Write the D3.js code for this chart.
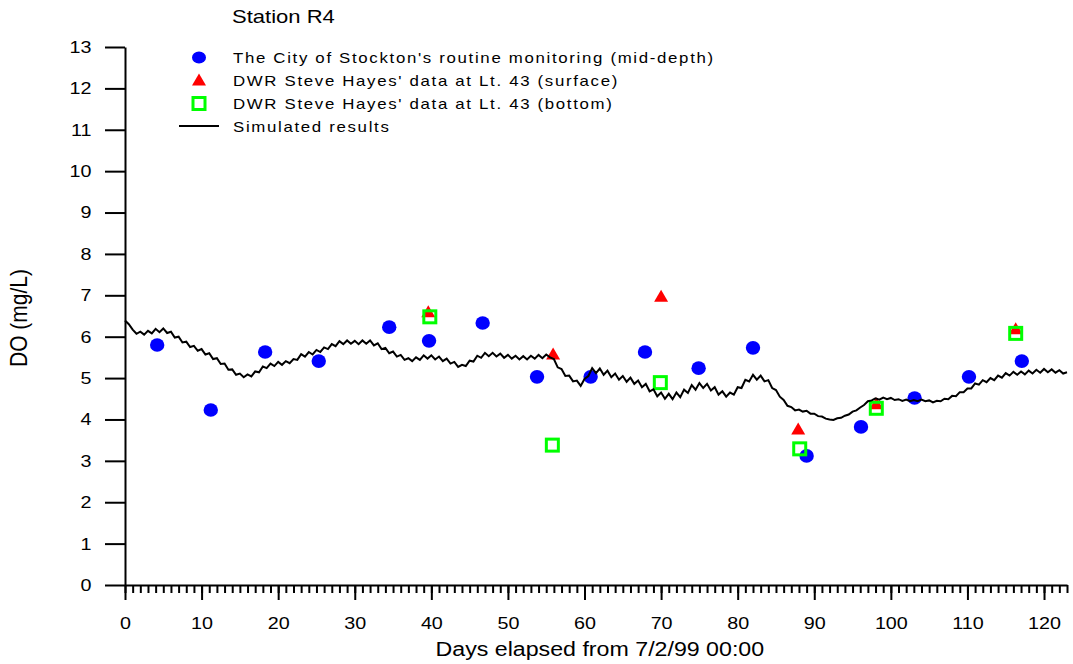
<!DOCTYPE html>
<html>
<head>
<meta charset="utf-8">
<script src="https://cdn.jsdelivr.net/npm/d3@7"></script>
<style>
  body { margin: 0; background: #fff; }
  text { font-family: "Liberation Sans", Arial, sans-serif; fill: #000; }
</style>
</head>
<body>
<div class="chart"></div>
<script>
var cityDay = [4.2, 11.2, 18.3, 25.3, 34.5, 39.7, 46.7, 53.8, 60.8, 67.9, 74.9, 82.0, 89.0, 96.1, 103.1, 110.2, 117.1];
var cityDO  = [5.80, 4.23, 5.63, 5.41, 6.23, 5.90, 6.33, 5.03, 5.03, 5.63, 5.24, 5.73, 3.12, 3.82, 4.52, 5.03, 5.41];

var surfDay = [39.6, 55.9, 70.0, 87.9, 98.1, 116.3];
var surfDO  = [6.60, 5.58, 6.98, 3.77, 4.38, 6.19];

var botDay = [39.8, 55.8, 69.9, 88.1, 98.1, 116.3];
var botDO  = [6.48, 3.38, 4.89, 3.29, 4.27, 6.08];

// simulated DO, one value every half day from day 0
var simStep = 0.5;
var simDO = [
  6.39, 6.30, 6.17, 6.07, 6.12, 6.05, 6.14, 6.08, 6.19, 6.11, 6.20, 6.09, 6.12, 5.98, 6.00, 5.86, 5.88, 5.75, 5.78, 5.66,
  5.70, 5.57, 5.60, 5.46, 5.48, 5.34, 5.35, 5.20, 5.21, 5.08, 5.11, 5.02, 5.09, 5.04, 5.16, 5.14, 5.28, 5.24, 5.35, 5.29,
  5.39, 5.32, 5.41, 5.36, 5.46, 5.44, 5.58, 5.52, 5.63, 5.57, 5.68, 5.63, 5.74, 5.70, 5.82, 5.77, 5.89, 5.82, 5.91, 5.83,
  5.90, 5.82, 5.91, 5.83, 5.91, 5.79, 5.84, 5.70, 5.73, 5.60, 5.64, 5.52, 5.56, 5.44, 5.48, 5.41, 5.50, 5.44, 5.55, 5.47,
  5.55, 5.45, 5.52, 5.41, 5.47, 5.35, 5.39, 5.27, 5.32, 5.29, 5.42, 5.40, 5.54, 5.49, 5.61, 5.53, 5.61, 5.52, 5.59, 5.49,
  5.56, 5.47, 5.54, 5.45, 5.53, 5.45, 5.54, 5.47, 5.56, 5.48, 5.57, 5.50, 5.46, 5.26, 5.22, 5.05, 5.06, 4.92, 4.94, 4.81,
  4.98, 5.05, 5.24, 5.12, 5.23, 5.08, 5.18, 5.02, 5.11, 4.96, 5.05, 4.91, 5.01, 4.86, 4.94, 4.78, 4.86, 4.68, 4.73, 4.56,
  4.65, 4.50, 4.62, 4.49, 4.65, 4.54, 4.72, 4.64, 4.83, 4.72, 4.88, 4.76, 4.86, 4.70, 4.78, 4.60, 4.68, 4.55, 4.65, 4.60,
  4.78, 4.76, 4.96, 4.92, 5.08, 4.96, 5.06, 4.92, 4.95, 4.76, 4.71, 4.55, 4.47, 4.33, 4.30, 4.22, 4.24, 4.19, 4.21, 4.14,
  4.14, 4.08, 4.07, 4.02, 4.00, 3.99, 4.03, 4.04, 4.09, 4.12, 4.19, 4.22, 4.29, 4.35, 4.44, 4.46, 4.51, 4.48, 4.53, 4.49,
  4.52, 4.47, 4.49, 4.45, 4.48, 4.44, 4.47, 4.44, 4.48, 4.44, 4.46, 4.41, 4.45, 4.44, 4.50, 4.49, 4.57, 4.56, 4.66, 4.66,
  4.75, 4.75, 4.87, 4.84, 4.95, 4.90, 5.00, 4.95, 5.06, 5.01, 5.12, 5.06, 5.15, 5.08, 5.16, 5.09, 5.18, 5.11, 5.20, 5.13,
  5.22, 5.14, 5.21, 5.13, 5.19, 5.11, 5.14
];

var xMajorTicks = [0, 10, 20, 30, 40, 50, 60, 70, 80, 90, 100, 110, 120];
var yTicks = [0, 1, 2, 3, 4, 5, 6, 7, 8, 9, 10, 11, 12, 13];

var legendLabels = [
  "The City of Stockton's routine monitoring (mid-depth)",
  "DWR Steve Hayes' data at Lt. 43 (surface)",
  "DWR Steve Hayes' data at Lt. 43 (bottom)",
  "Simulated results"
];

var svgWidth = 1073;
var svgHeight = 664;
var margin = { top: 47, right: 6, bottom: 79, left: 125 };
var width = svgWidth - margin.left - margin.right;
var height = svgHeight - margin.top - margin.bottom;
var stretch = "scale(1.16,1)";

var svg = d3.select(".chart")
  .append("svg")
  .attr("width", svgWidth)
  .attr("height", svgHeight);

var chartGroup = svg.append("g")
  .attr("transform", `translate(${margin.left}, ${margin.top})`);

var x = d3.scaleLinear().domain([0, 123]).range([0, width]);
var y = d3.scaleLinear().domain([0, 13]).range([height, 0]);

// axes
var minorAxis = d3.axisBottom(x)
  .tickValues(d3.range(0, 124))
  .tickSize(8)
  .tickSizeOuter(0)
  .tickFormat("");
var majorAxis = d3.axisBottom(x)
  .tickValues(xMajorTicks)
  .tickSize(15)
  .tickSizeOuter(0)
  .tickPadding(17)
  .tickFormat(d3.format("d"));
var leftAxis = d3.axisLeft(y)
  .tickValues(yTicks)
  .tickSize(20)
  .tickSizeOuter(0)
  .tickPadding(9);

var gx1 = chartGroup.append("g")
  .attr("transform", `translate(0, ${height})`)
  .call(minorAxis);
var gx2 = chartGroup.append("g")
  .attr("transform", `translate(0, ${height})`)
  .call(majorAxis);
gx2.select(".domain").remove();
var gy = chartGroup.append("g").call(leftAxis);

[gx1, gx2, gy].forEach(function(g) {
  g.selectAll("line, path").attr("stroke", "#000").attr("stroke-width", 2);
  g.selectAll("text")
    .attr("font-size", 17)
    .attr("font-family", "'Liberation Sans', Arial, sans-serif")
    .attr("fill", "#000")
    .attr("transform", stretch);
});

// observed markers
var cityData = cityDay.map((d, i) => ({ day: d, val: cityDO[i] }));
var surfData = surfDay.map((d, i) => ({ day: d, val: surfDO[i] }));
var botData = botDay.map((d, i) => ({ day: d, val: botDO[i] }));

chartGroup.selectAll(".city")
  .data(cityData)
  .enter()
  .append("ellipse")
  .attr("class", "city")
  .attr("cx", d => x(d.day))
  .attr("cy", d => y(d.val))
  .attr("rx", 7.2)
  .attr("ry", 6.8)
  .attr("fill", "#0000ff");

var tri = "M0,-6.5L7,5.5L-7,5.5Z";
chartGroup.selectAll(".surf")
  .data(surfData)
  .enter()
  .append("path")
  .attr("class", "surf")
  .attr("d", tri)
  .attr("transform", d => `translate(${x(d.day)}, ${y(d.val)})`)
  .attr("fill", "#ff0000");

chartGroup.selectAll(".bot")
  .data(botData)
  .enter()
  .append("rect")
  .attr("class", "bot")
  .attr("x", d => x(d.day) - 6)
  .attr("y", d => y(d.val) - 6)
  .attr("width", 12)
  .attr("height", 12)
  .attr("fill", "none")
  .attr("stroke", "#00ff00")
  .attr("stroke-width", 3);

// simulated line
var line = d3.line()
  .x((d, i) => x(i * simStep))
  .y(d => y(d));

chartGroup.append("path")
  .datum(simDO)
  .attr("d", line)
  .attr("fill", "none")
  .attr("stroke", "#000")
  .attr("stroke-width", 2)
  .attr("stroke-linejoin", "miter");

// titles
svg.append("text")
  .attr("transform", "translate(232, 23) " + stretch)
  .attr("font-size", 19)
  .text("Station R4");

svg.append("text")
  .attr("transform", `translate(${margin.left + x(62)}, 656) ` + stretch)
  .attr("text-anchor", "middle")
  .attr("font-size", 20)
  .text("Days elapsed from 7/2/99 00:00");

svg.append("text")
  .attr("transform", "translate(27, 318) rotate(-90) scale(1,1.16)")
  .attr("text-anchor", "middle")
  .attr("font-size", 21)
  .text("DO (mg/L)");

// legend
var legendY = [57.5, 80, 103.5, 126];
var legend = svg.append("g");
legend.append("ellipse")
  .attr("cx", 199).attr("cy", legendY[0])
  .attr("rx", 7).attr("ry", 6)
  .attr("fill", "#0000ff");
legend.append("path")
  .attr("d", tri)
  .attr("transform", `translate(199, ${legendY[1]})`)
  .attr("fill", "#ff0000");
legend.append("rect")
  .attr("x", 193).attr("y", legendY[2] - 6)
  .attr("width", 12).attr("height", 12)
  .attr("fill", "none")
  .attr("stroke", "#00ff00")
  .attr("stroke-width", 3);
legend.append("line")
  .attr("x1", 179).attr("x2", 219)
  .attr("y1", legendY[3]).attr("y2", legendY[3])
  .attr("stroke", "#000")
  .attr("stroke-width", 2);

legend.selectAll(".lab")
  .data(legendLabels)
  .enter()
  .append("text")
  .attr("class", "lab")
  .attr("transform", (d, i) => `translate(233, ${legendY[i] + 5.5}) ` + stretch)
  .attr("font-size", 14.5)
  .attr("letter-spacing", 1.45)
  .text(d => d);
</script>
</body>
</html>
